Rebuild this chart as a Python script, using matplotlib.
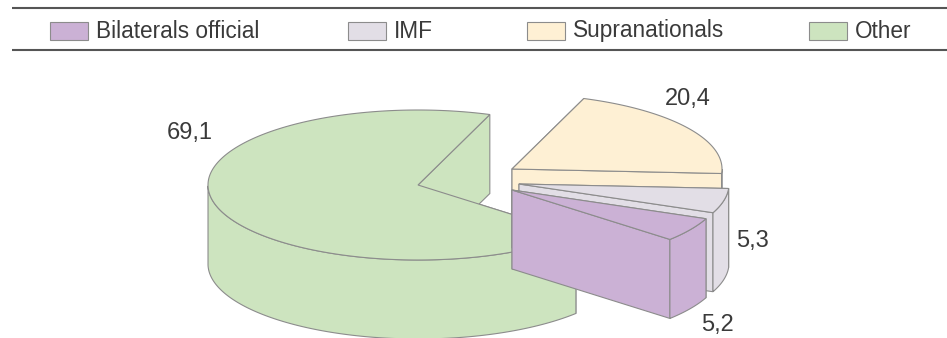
import numpy as np
import matplotlib
matplotlib.use("Agg")
import matplotlib.pyplot as plt
from matplotlib.patches import Polygon, Rectangle

plt.rcParams['font.family'] = ['Liberation Sans', 'DejaVu Sans']

# shares in %, listed counter-clockwise starting from the big slice
labels = ['Other', 'Bilaterals official', 'IMF', 'Supranationals']
values = [69.1, 5.2, 5.3, 20.4]
colors = ['#cde4bf', '#cbb1d5', '#e2dee6', '#fef0d4']

legend_order = ['Bilaterals official', 'IMF', 'Supranationals', 'Other']

# pie geometry in pixels (y grows downward)
cx, cy = 418, 185
rx, ry = 210, 75
depth = 79
start = 70.0
offsets = {'Other': (0, 0), 'Bilaterals official': (94, 5),
           'IMF': (101, -1), 'Supranationals': (94, -16)}
label_pos = {'Other': (190, 133), 'Bilaterals official': (717, 325),
             'IMF': (752, 241), 'Supranationals': (688, 99)}
draw_order = ['Other', 'Supranationals', 'IMF', 'Bilaterals official']
edge = '#8c8c8c'
txt = '#3a3a3a'

fig = plt.figure(figsize=(9.47, 3.38), dpi=100)
ax = fig.add_axes([0, 0, 1, 1])
ax.set_xlim(0, 947)
ax.set_ylim(338, 0)
ax.axis('off')


def pt(x0, y0, t, dz=0):
    return x0 + rx * np.cos(t), y0 - ry * np.sin(t) + dz


# slice angle ranges
spans = {}
a = start
for lab, v in zip(labels, values):
    b = a + 360 * v / 100
    spans[lab] = (np.radians(a), np.radians(b))
    a = b

for lab in draw_order:
    a1, a2 = spans[lab]
    ox, oy = offsets[lab]
    x0, y0 = cx + ox, cy + oy
    col = colors[labels.index(lab)]

    # radial walls, back-facing one first
    walls = []
    for t, n in ((a1, a1 - np.pi / 2), (a2, a2 + np.pi / 2)):
        ex, ey = pt(x0, y0, t)
        poly = [(x0, y0), (ex, ey), (ex, ey + depth), (x0, y0 + depth)]
        walls.append((np.sin(n), poly))
    walls.sort(key=lambda w: -w[0])
    for _, poly in walls:
        ax.add_patch(Polygon(poly, closed=True, fc=col, ec=edge, lw=0.8))

    # outer curved side, only the part facing the viewer
    ts = np.linspace(a1, a2, 300)
    ts = ts[np.sin(ts) <= 0.001]
    if len(ts) > 1:
        top = [pt(x0, y0, t) for t in ts]
        bot = [pt(x0, y0, t, depth) for t in ts[::-1]]
        ax.add_patch(Polygon(top + bot, closed=True, fc=col, ec=edge, lw=0.8))

    # top face
    ts = np.linspace(a1, a2, 300)
    face = [(x0, y0)] + [pt(x0, y0, t) for t in ts]
    ax.add_patch(Polygon(face, closed=True, fc=col, ec=edge, lw=0.8))

# value labels
for lab, v in zip(labels, values):
    x, y = label_pos[lab]
    ax.text(x, y, f'{v:.1f}'.replace('.', ','), ha='center', va='center',
            fontsize=17, color=txt)

# legend band between two rules
ax.plot([12, 947], [8, 8], color='#555555', lw=1.5, solid_capstyle='butt')
ax.plot([12, 947], [50, 50], color='#555555', lw=1.5, solid_capstyle='butt')
box_x = [50, 348, 527, 809]
for lab, bx in zip(legend_order, box_x):
    col = colors[labels.index(lab)]
    ax.add_patch(Rectangle((bx, 22), 38, 18, fc=col, ec=edge, lw=0.8))
    ax.text(bx + 46, 31, lab, ha='left', va='center', fontsize=16.3,
            color=txt)

fig.savefig('out.png', dpi=100)
